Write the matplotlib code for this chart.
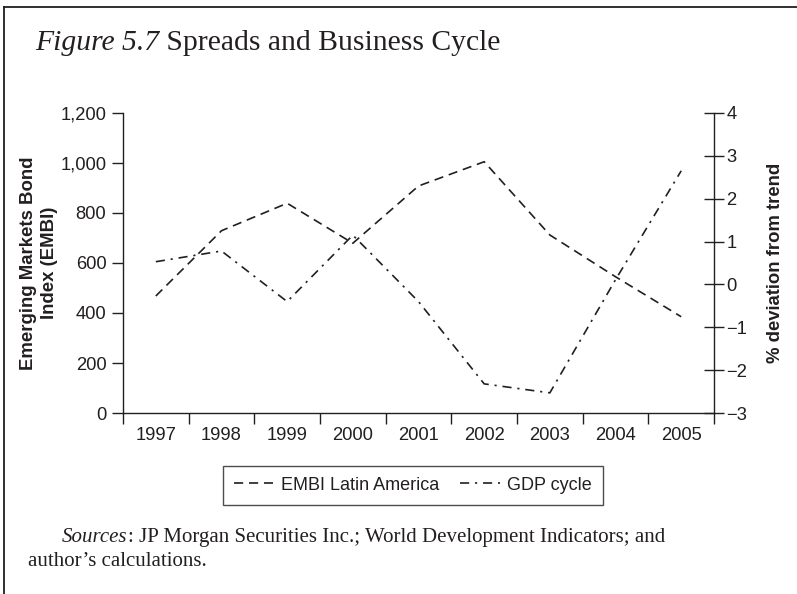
import matplotlib
matplotlib.use("Agg")
import matplotlib.pyplot as plt
from matplotlib.lines import Line2D
import numpy as np

years = ["1997", "1998", "1999", "2000", "2001", "2002", "2003", "2004", "2005"]
embi = [468, 729, 839, 679, 908, 1005, 712, 545, 385]
gdp = [0.53, 0.78, -0.40, 1.15, -0.40, -2.32, -2.53, 0.11, 2.65]
left_ticks = [0, 200, 400, 600, 800, 1000, 1200]
right_ticks = [-3, -2, -1, 0, 1, 2, 3, 4]

INK = "#231f20"
SANS = ["Liberation Sans", "DejaVu Sans"]
SERIF = ["Liberation Serif", "DejaVu Serif"]
plt.rcParams["font.family"] = SANS

fig = plt.figure(figsize=(7.97, 5.94), dpi=100)
renderer = fig.canvas.get_renderer()


def seq_text(x, y, pieces, size):
    """Draw text pieces one after another on a baseline (figure coords)."""
    for s, style in pieces:
        t = fig.text(x, y, s, family=SERIF, style=style, fontsize=size, color=INK, va="baseline")
        bb = t.get_window_extent(renderer=renderer)
        x += bb.width / fig.bbox.width


# frame lines (top and left)
fig.add_artist(Line2D([0.005, 1.0], [0.988, 0.988], transform=fig.transFigure, color=INK, lw=1.3))
fig.add_artist(Line2D([0.005, 0.005], [0.0, 0.988], transform=fig.transFigure, color=INK, lw=1.3))

ax = fig.add_axes([0.1543, 0.3047, 0.8959 - 0.1543, 0.8098 - 0.3047])
ax2 = ax.twinx()

x = np.arange(len(years))
ax.plot(x, embi, color=INK, lw=1.2, dashes=(5.5, 3.5))
ax2.plot(x, gdp, color=INK, lw=1.2, dashes=(5.5, 3.5, 1.3, 3.5))

ax.set_xlim(-0.5, len(years) - 0.5)
ax.set_ylim(0, 1200)
ax2.set_ylim(-3, 4)

ax.set_xticks(np.arange(-0.5, len(years), 1.0))
ax.set_xticklabels([])
ax.set_xticks(x, minor=True)
ax.set_xticklabels(years, minor=True)
ax.tick_params(axis="x", which="major", direction="out", length=8, width=1.0, color=INK)
ax.tick_params(axis="x", which="minor", length=0, pad=10, labelsize=13.2, labelcolor=INK)

ax.set_yticks(left_ticks)
ax.set_yticklabels([f"{v:,}" for v in left_ticks])
ax.tick_params(axis="y", direction="out", length=8, width=1.0, color=INK, labelsize=13.2, labelcolor=INK, pad=4)

ax2.set_yticks(right_ticks)
ax2.set_yticklabels([("\u2212" + str(-v)) if v < 0 else str(v) for v in right_ticks])
ax2.tick_params(axis="y", direction="inout", length=14, width=1.0, color=INK, labelsize=13.2, labelcolor=INK, pad=2)

for a in (ax, ax2):
    a.spines["top"].set_visible(False)
    for s in ("left", "right", "bottom"):
        a.spines[s].set_color(INK)
        a.spines[s].set_linewidth(1.0)
ax.spines["right"].set_visible(False)
ax2.spines["left"].set_visible(False)
ax2.spines["bottom"].set_visible(False)

ax.set_ylabel("Emerging Markets Bond\nIndex (EMBI)", fontsize=13.4, fontweight="bold", color=INK,
              labelpad=2, linespacing=1.3)
ax2.set_ylabel("% deviation from trend", fontsize=13.3, fontweight="bold", color=INK, labelpad=14)

# title
seq_text(0.044, 0.915, [("Figure 5.7", "italic"), (" Spreads and Business Cycle", "normal")], 21.3)

# legend
h1 = Line2D([], [], color=INK, lw=1.2, dashes=(5.5, 3.5))
h2 = Line2D([], [], color=INK, lw=1.2, dashes=(5.5, 3.5, 1.3, 3.5))
leg = fig.legend([h1, h2], ["EMBI Latin America", "GDP cycle"], loc="center",
                 bbox_to_anchor=(0.518, 0.183), ncol=2, frameon=True, fancybox=False,
                 fontsize=13, handlelength=2.2, handletextpad=0.4, columnspacing=1.2,
                 borderpad=0.6, edgecolor=INK)
leg.get_frame().set_linewidth(1.0)
for t in leg.get_texts():
    t.set_color(INK)

# sources
seq_text(0.078, 0.088, [("Sources", "italic"),
                        (": JP Morgan Securities Inc.; World Development Indicators; and", "normal")], 15)
seq_text(0.035, 0.047, [("author\u2019s calculations.", "normal")], 15)

fig.savefig("out.png", dpi=100)
